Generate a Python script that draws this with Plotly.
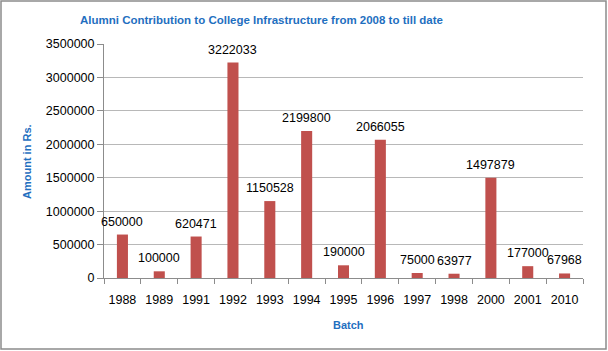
import plotly.graph_objects as go

batches = ["1988", "1989", "1991", "1992", "1993", "1994", "1995", "1996", "1997", "1998", "2000", "2001", "2010"]
amounts = [650000, 100000, 620471, 3222033, 1150528, 2199800, 190000, 2066055, 75000, 63977, 1497879, 177000, 67968]
y_ticks = [0, 500000, 1000000, 1500000, 2000000, 2500000, 3000000, 3500000]

W, H = 608, 351
ML, MR, MT, MB = 104, 25, 44, 73
PW, PH = W - ML - MR, H - MT - MB

def px_x(p):
    return (p - ML) / PW

def px_y(p):
    return (H - MB - p) / PH

fig = go.Figure()
fig.add_trace(go.Bar(
    x=batches, y=amounts,
    marker=dict(color="#C0504D", line=dict(width=0)),
    hoverinfo="x+y",
))

blue = "#1F6FBF"
label_annotations = [
    dict(x=i, y=v, xref="x", yref="y", text=str(v), showarrow=False,
         xanchor="center", yanchor="middle", yshift=13,
         font=dict(family="Liberation Sans", size=12.5, color="#000000"))
    for i, v in enumerate(amounts)
]

fig.update_layout(
    width=W, height=H,
    margin=dict(l=ML, r=MR, t=MT, b=MB),
    paper_bgcolor="white", plot_bgcolor="white",
    bargap=0.7,
    showlegend=False,
    font=dict(family="Liberation Sans", size=12.5, color="#000000"),
    xaxis=dict(
        type="category", categoryorder="array", categoryarray=batches,
        range=[-0.5, len(batches) - 0.5], autorange=False,
        showline=True, linecolor="#8C8C8C", linewidth=1,
        ticks="outside", tickson="boundaries", ticklen=5, tickcolor="#8C8C8C",
        showgrid=False, tickangle=0, ticklabelstandoff=10,
        tickfont=dict(size=12.5, color="#000000"),
    ),
    yaxis=dict(
        range=[0, 3500000], tickvals=y_ticks, tickformat="d",
        showline=True, linecolor="#8C8C8C", linewidth=1,
        ticks="outside", ticklen=6, tickcolor="#8C8C8C",
        showgrid=True, gridcolor="#B8B8B8", gridwidth=1,
        zeroline=False,
        tickfont=dict(size=12.5, color="#000000"),
    ),
    annotations=label_annotations + [
        dict(text="<b>Alumni Contribution to College Infrastructure from 2008 to till date</b>",
             xref="paper", yref="paper", x=px_x(261), y=px_y(20),
             xanchor="center", yanchor="middle", showarrow=False,
             font=dict(family="Liberation Sans", size=11.5, color=blue)),
        dict(text="<b>Amount in Rs.</b>",
             xref="paper", yref="paper", x=px_x(27), y=px_y(162),
             xanchor="center", yanchor="middle", showarrow=False, textangle=-90,
             font=dict(family="Liberation Sans", size=11, color=blue)),
        dict(text="<b>Batch</b>",
             xref="paper", yref="paper", x=px_x(348), y=px_y(325),
             xanchor="center", yanchor="middle", showarrow=False,
             font=dict(family="Liberation Sans", size=11, color=blue)),
    ],
    shapes=[
        dict(type="rect", xref="paper", yref="paper",
             x0=px_x(1), x1=px_x(606), y0=px_y(349), y1=px_y(1),
             line=dict(color="#8C8C8C", width=1.5), layer="below"),
    ],
)

fig.write_html("out.html")
